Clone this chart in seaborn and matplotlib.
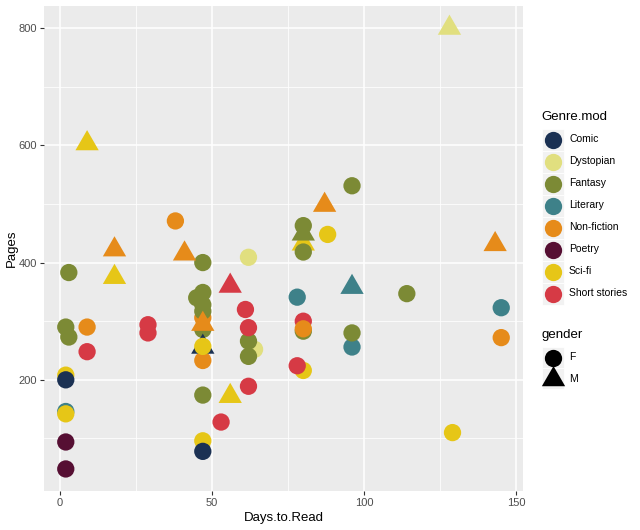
import numpy as np
import pandas as pd
import seaborn as sns
import matplotlib.pyplot as plt
from matplotlib.path import Path
from matplotlib.patches import Rectangle

# data, drawn in this order (later rows on top)
days = [128, 62, 64,
        2, 78, 96, 96, 145,
        80, 80, 47, 2, 80, 47,
        3, 2, 3, 47, 47, 45, 47, 47, 47, 47, 62, 62, 80, 80, 80, 96, 80, 96, 114,
        38, 18, 41, 87, 143, 9, 47, 47, 80, 145,
        2, 47, 47,
        47, 9, 18, 88, 2, 56, 129,
        2, 2,
        9, 29, 29, 56, 61, 62, 62, 53, 78]
pages = [800, 409, 252,
         146, 341, 358, 256, 323,
         300, 432, 96, 208, 216, 306,
         383, 290, 273, 400, 349, 340, 328, 317, 286, 174, 266, 240, 463, 449, 418, 531, 283, 280, 347,
         471, 422, 415, 498, 431, 290, 295, 233, 287, 272,
         200, 78, 256,
         257, 603, 375, 448, 142, 172, 110,
         94, 48,
         248, 294, 280, 360, 320, 289, 189, 128, 224]
genre = (['Dystopian'] * 3 + ['Literary'] * 5 + ['Short stories'] + ['Sci-fi'] * 4 + ['Non-fiction']
         + ['Fantasy'] * 19 + ['Non-fiction'] * 10 + ['Comic'] * 3 + ['Sci-fi'] * 7
         + ['Poetry'] * 2 + ['Short stories'] * 9)
gender = ['M', 'F', 'F',
          'F', 'F', 'M', 'F', 'F',
          'F', 'M', 'F', 'F', 'F', 'F',
          'F', 'F', 'F', 'F', 'F', 'F', 'F', 'F', 'F', 'F', 'F', 'F', 'F', 'M', 'F', 'F', 'F', 'F', 'F',
          'F', 'M', 'M', 'M', 'M', 'F', 'M', 'F', 'F', 'F',
          'F', 'F', 'M',
          'F', 'M', 'M', 'F', 'F', 'M', 'F',
          'F', 'F',
          'F', 'F', 'F', 'M', 'F', 'F', 'F', 'F', 'F']

genres = ['Comic', 'Dystopian', 'Fantasy', 'Literary', 'Non-fiction', 'Poetry', 'Sci-fi', 'Short stories']
genre_colors = ['#1B3153', '#E1DF7F', '#7C8A35', '#3E8189', '#E68B1A', '#560F33', '#E6C617', '#D63A45']
genders = ['F', 'M']

palette = dict(zip(genres, genre_colors))
df = pd.DataFrame({'Days.to.Read': days, 'Pages': pages, 'Genre.mod': genre, 'gender': gender})

# R style equilateral triangle (pch 17)
tri = Path([(0, 1.5551), (1.3468, -0.7776), (-1.3468, -0.7776), (0, 1.5551)], closed=True)
s_circle = 155
s_tri = s_circle * 1.5551 ** 2

fig = plt.figure(figsize=(6.4, 5.3), dpi=100)
ax = fig.add_axes([44 / 640, 1 - 491 / 530, (523 - 44) / 640, (491 - 6) / 530])
ax.set_facecolor('#EBEBEB')

sns.scatterplot(data=df, x='Days.to.Read', y='Pages', hue='Genre.mod', style='gender',
                size='gender', sizes={'F': s_circle, 'M': s_tri},
                markers={'F': 'o', 'M': tri}, palette=palette, linewidth=0,
                legend=False, ax=ax, zorder=3)

xr = max(days) - min(days)
yr = max(pages) - min(pages)
ax.set_xlim(min(days) - 0.05 * xr, max(days) + 0.05 * xr)
ax.set_ylim(min(pages) - 0.05 * yr, max(pages) + 0.05 * yr)
ax.set_xticks([0, 50, 100, 150])
ax.set_yticks([200, 400, 600, 800])
ax.set_xticks([25, 75, 125], minor=True)
ax.set_yticks([100, 300, 500, 700], minor=True)
ax.grid(which='major', color='white', linewidth=1.1)
ax.grid(which='minor', color='white', linewidth=0.55)
ax.set_axisbelow(True)
for sp in ax.spines.values():
    sp.set_visible(False)
ax.tick_params(which='major', length=3, width=0.8, color='#333333', labelcolor='#4D4D4D',
               labelsize=8, pad=2)
ax.tick_params(which='minor', length=0)
for lab in ax.get_xticklabels() + ax.get_yticklabels():
    lab.set_fontfamily('Liberation Sans')
ax.set_xlabel('Days.to.Read', fontsize=9.5, family='Liberation Sans', labelpad=3)
ax.set_ylabel('Pages', fontsize=9.5, family='Liberation Sans', labelpad=0.5)

# ggplot-style legends, laid out in pixel coordinates
lg = fig.add_axes([0, 0, 1, 1], facecolor='none')
lg.set_xlim(0, 640)
lg.set_ylim(530, 0)
lg.axis('off')

key_x, key_w, step = 541.5, 22, 22
lg.text(key_x, 117, 'Genre.mod', fontsize=9.5, family='Liberation Sans', va='center', ha='left')
for i, (g, c) in enumerate(zip(genres, genre_colors)):
    yc = 139.5 + i * step
    lg.add_patch(Rectangle((key_x, yc - step / 2), key_w, step, facecolor='#F2F2F2',
                           edgecolor='white', linewidth=0.6))
    lg.scatter([key_x + key_w / 2], [yc], s=s_circle, color=c, linewidths=0)
    lg.text(569, yc, g, fontsize=7.5, family='Liberation Sans', va='center', ha='left')

lg.text(key_x, 335, 'gender', fontsize=9.5, family='Liberation Sans', va='center', ha='left')
for i, (g, m, s) in enumerate(zip(genders, ['o', tri], [s_circle, s_tri])):
    yc = 357.5 + i * 21
    lg.add_patch(Rectangle((key_x, yc - 10.5), key_w, 21, facecolor='#F2F2F2',
                           edgecolor='white', linewidth=0.6))
    lg.scatter([key_x + key_w / 2], [yc], s=s, color='black', marker=m, linewidths=0)
    lg.text(569, yc, g, fontsize=7.5, family='Liberation Sans', va='center', ha='left')

fig.savefig('out.png', dpi=100, facecolor='white')
